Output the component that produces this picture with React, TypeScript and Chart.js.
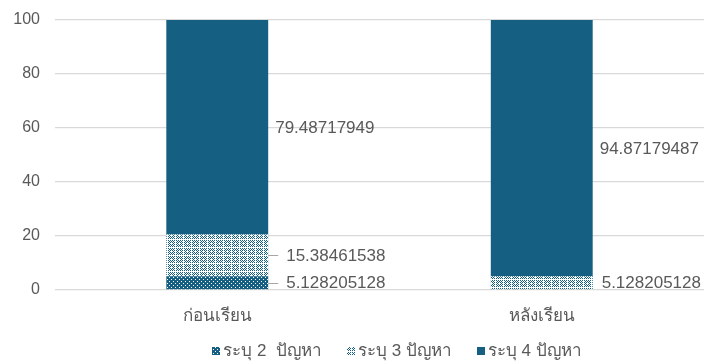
import React, { useEffect, useRef } from "react";
import { Chart, registerables } from "chart.js";

Chart.register(...registerables);

const categories = ["ก่อนเรียน", "หลังเรียน"];
const seriesNames = ["ระบุ 2  ปัญหา", "ระบุ 3 ปัญหา", "ระบุ 4 ปัญหา"];
const series2 = [5.128205128, 0];
const series3 = [15.38461538, 5.128205128];
const series4 = [79.48717949, 94.87179487];
const yTicks = [0, 20, 40, 60, 80, 100];

const BASE = "#156082";
const TEXT = "#595959";
const FONT = "'Liberation Sans', Arial, 'Noto Sans', sans-serif";

function makePattern(kind: number): CanvasPattern | string {
  const c = document.createElement("canvas");
  const size = kind === 1 ? 4 : 8;
  c.width = size;
  c.height = size;
  const g = c.getContext("2d");
  if (!g) return BASE;
  if (kind === 1) {
    g.fillStyle = BASE;
    g.fillRect(0, 0, size, size);
    g.fillStyle = "#ffffff";
    g.fillRect(1, 1, 1, 1);
    g.fillRect(3, 3, 1, 1);
  } else {
    g.fillStyle = "#ffffff";
    g.fillRect(0, 0, size, size);
    g.fillStyle = BASE;
    for (let y = 0; y < size; y++) {
      for (let x = 0; x < size; x++) {
        if ((x + y) % 2 === 0 && x !== 7 && y !== 7 && !(x === 3 && y === 3)) g.fillRect(x, y, 1, 1);
      }
    }
  }
  const pat = g.createPattern(c, "repeat");
  return pat || BASE;
}

const labelPlugin = {
  id: "valueLabels",
  afterDatasetsDraw(chart: any) {
    const ctx = chart.ctx;
    ctx.save();
    ctx.font = `17px ${FONT}`;
    ctx.fillStyle = TEXT;
    ctx.textBaseline = "middle";
    ctx.textAlign = "left";
    chart.data.datasets.forEach((ds: any, di: number) => {
      const meta = chart.getDatasetMeta(di);
      meta.data.forEach((bar: any, i: number) => {
        const v = ds.data[i];
        if (!v) return;
        const right = bar.x + bar.width / 2;
        const yc = (bar.y + bar.base) / 2;
        const leader = i === 0 && di < 2;
        if (leader) {
          ctx.strokeStyle = "#a6a6a6";
          ctx.lineWidth = 1;
          ctx.beginPath();
          ctx.moveTo(right, Math.round(yc) + 0.5);
          ctx.lineTo(right + 10, Math.round(yc) + 0.5);
          ctx.stroke();
          ctx.fillText(String(v), right + 18, yc + 1);
        } else {
          ctx.fillText(String(v), right + (di === 2 ? 7 : 9), yc + 1);
        }
      });
    });
    ctx.restore();
  },
};

const legendPlugin = {
  id: "customLegend",
  afterDraw(chart: any) {
    const ctx = chart.ctx;
    ctx.save();
    ctx.font = `17px ${FONT}`;
    ctx.textBaseline = "middle";
    ctx.textAlign = "left";
    const box = 8;
    const gap = 3;
    const spacing = 25;
    const items = chart.data.datasets.map((ds: any) => ({
      label: ds.label,
      fill: ds.backgroundColor,
      w: ctx.measureText(ds.label).width,
    }));
    const total = items.reduce((a: number, it: any) => a + box + gap + it.w, 0) + spacing * (items.length - 1);
    let x = 397 - total / 2;
    const yc = 351;
    items.forEach((it: any) => {
      ctx.fillStyle = it.fill;
      ctx.fillRect(Math.round(x), Math.round(yc - box / 2), box, box);
      ctx.fillStyle = TEXT;
      ctx.fillText(it.label, x + box + gap, yc);
      x += box + gap + it.w + spacing;
    });
    ctx.restore();
  },
};

export default function App() {
  const ref = useRef<HTMLCanvasElement>(null);
  useEffect(() => {
    document.body.style.margin = "0";
    const p1 = makePattern(1);
    const p2 = makePattern(2);
    const chart = new Chart(ref.current as HTMLCanvasElement, {
      type: "bar",
      data: {
        labels: categories,
        datasets: [
          { label: seriesNames[0], data: series2, backgroundColor: p1 as any, borderWidth: 0 },
          { label: seriesNames[1], data: series3, backgroundColor: p2 as any, borderWidth: 0 },
          { label: seriesNames[2], data: series4, backgroundColor: BASE, borderWidth: 0 },
        ],
      },
      options: {
        animation: false,
        responsive: false,
        layout: { padding: { top: 20, right: 0, left: 0, bottom: 36 } },
        datasets: { bar: { categoryPercentage: 1, barPercentage: 0.314 } },
        scales: {
          x: {
            stacked: true,
            grid: { display: false },
            border: { display: false },
            ticks: { color: TEXT, font: { size: 17, family: FONT }, padding: 8 },
            afterFit: (s: any) => { s.height = 36; s.paddingLeft = 0; s.paddingRight = 0; },
          },
          y: {
            stacked: true,
            min: 0,
            max: 100,
            afterBuildTicks: (s: any) => { s.ticks = yTicks.map((v) => ({ value: v })); },
            grid: { color: "#d9d9d9", lineWidth: 1.3, drawTicks: false },
            border: { display: false },
            ticks: { color: TEXT, font: { size: 16, family: FONT }, padding: 15 },
            afterFit: (s: any) => { s.width = 55; s.paddingTop = 0; s.paddingBottom = 0; },
          },
        },
        plugins: {
          legend: { display: false },
          tooltip: { enabled: false },
        },
      },
      plugins: [labelPlugin, legendPlugin],
    });
    return () => chart.destroy();
  }, []);
  return <canvas ref={ref} width={704} height={362} style={{ display: "block" }} />;
}
